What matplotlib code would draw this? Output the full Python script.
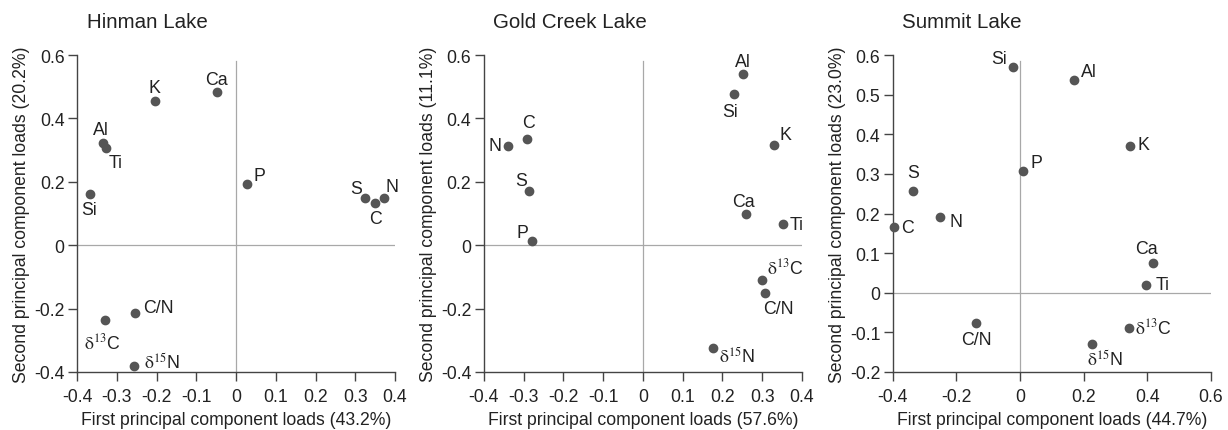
import matplotlib
matplotlib.use("Agg")
import matplotlib.pyplot as plt

plt.rcParams.update({
    "font.family": ["Liberation Sans", "DejaVu Sans"],
    "mathtext.fontset": "stix",
    "font.size": 12.5,
})

D13C = r"$\mathrm{\delta}^{\mathrm{13}}$C"
D15N = r"$\mathrm{\delta}^{\mathrm{15}}$N"

# Hinman Lake
hinman_labels = ["K", "Ca", "Al", "Ti", "Si", "P", "S", "N", "C", "C/N", D13C, D15N]
hinman_pc1 = [-0.204, -0.049, -0.335, -0.327, -0.367, 0.027, 0.325, 0.371, 0.349, -0.253, -0.329, -0.256]
hinman_pc2 = [0.456, 0.482, 0.322, 0.307, 0.163, 0.194, 0.150, 0.148, 0.134, -0.213, -0.235, -0.380]

# Gold Creek Lake
gold_labels = ["Al", "Si", "K", "Ca", "Ti", D13C, "C/N", D15N, "N", "C", "S", "P"]
gold_pc1 = [0.252, 0.229, 0.329, 0.260, 0.353, 0.300, 0.307, 0.177, -0.340, -0.292, -0.287, -0.279]
gold_pc2 = [0.539, 0.476, 0.317, 0.097, 0.066, -0.111, -0.152, -0.325, 0.314, 0.334, 0.170, 0.014]

# Summit Lake
summit_labels = ["Si", "Al", "K", "P", "S", "N", "C", "Ca", "Ti", "C/N", D13C, D15N]
summit_pc1 = [-0.022, 0.170, 0.346, 0.011, -0.336, -0.250, -0.396, 0.417, 0.396, -0.138, 0.342, 0.227]
summit_pc2 = [0.569, 0.537, 0.371, 0.308, 0.256, 0.191, 0.166, 0.074, 0.019, -0.076, -0.089, -0.129]

# label offsets (points) from each marker
hinman_off = [(0, 9.6), (0, 9.6), (-1.2, 9.6), (6.7, -10.8), (-0.5, -11.8), (9.1, 6),
              (-6.2, 6.7), (6, 8.6), (0.2, -11.5), (16.3, 3.6), (-2.4, -16.5), (20, 3.1)]
gold_off = [(0, 9.1), (-2.9, -12.5), (8.4, 7.7), (-1.7, 9.6), (9.8, 0), (16.8, 9.6),
            (9.4, -10.6), (17.3, -5.5), (-8.9, 0), (1.4, 12.2), (-5.3, 7.7), (-7, 6.2)]
summit_off = [(-10, 6.5), (10.8, 6), (10, 1.2), (9.4, 6), (0, 13.2), (11.3, -3.1),
              (9.6, -0.7), (-4.1, 10.6), (12, 0.7), (0, -12), (17.8, 0.7), (9.4, -10.8)]

panels = [
    ("Hinman Lake", hinman_labels, hinman_pc1, hinman_pc2, hinman_off,
     "43.2%", "20.2%", (-0.4, 0.4), (-0.4, 0.6),
     [-0.4, -0.3, -0.2, -0.1, 0, 0.1, 0.2, 0.3, 0.4], [-0.4, -0.2, 0, 0.2, 0.4, 0.6]),
    ("Gold Creek Lake", gold_labels, gold_pc1, gold_pc2, gold_off,
     "57.6%", "11.1%", (-0.4, 0.4), (-0.4, 0.6),
     [-0.4, -0.3, -0.2, -0.1, 0, 0.1, 0.2, 0.3, 0.4], [-0.4, -0.2, 0, 0.2, 0.4, 0.6]),
    ("Summit Lake", summit_labels, summit_pc1, summit_pc2, summit_off,
     "44.7%", "23.0%", (-0.4, 0.6), (-0.2, 0.6),
     [-0.4, -0.2, 0, 0.2, 0.4, 0.6], [-0.2, -0.1, 0, 0.1, 0.2, 0.3, 0.4, 0.5, 0.6]),
]

lefts = [0.0627, 0.394, 0.727]
width = 0.259
fig = plt.figure(figsize=(12.28, 4.31), dpi=100)


def fmt(v):
    if abs(v) < 1e-9:
        return "0"
    return f"{v:.1f}"


for (title, labels, xs, ys, offs, xpct, ypct, xlim, ylim, xt, yt), left in zip(panels, lefts):
    ax = fig.add_axes([left, 0.1346, width, 0.7354])
    ax.set_xlim(*xlim)
    ax.set_ylim(*ylim)
    ax.axhline(0, color="#a8a8a8", lw=0.9, zorder=1)
    ax.axvline(0, color="#a8a8a8", lw=0.9, ymax=0.98, zorder=1)
    ax.scatter(xs, ys, s=36, color="#555555", zorder=3, clip_on=False)
    for lab, x, y, (dx, dy) in zip(labels, xs, ys, offs):
        ax.annotate(lab, (x, y), xytext=(dx, dy), textcoords="offset points",
                    ha="center", va="center", fontsize=12.8, color="#222222")
    for s in ["top", "right"]:
        ax.spines[s].set_visible(False)
    for s in ["left", "bottom"]:
        ax.spines[s].set_color("#444444")
        ax.spines[s].set_linewidth(1.0)
    ax.set_xticks(xt)
    ax.set_xticklabels([fmt(v) for v in xt])
    ax.set_yticks(yt)
    ax.set_yticklabels([fmt(v) for v in yt])
    ax.tick_params(direction="out", length=6.5, width=1.0, color="#444444",
                   labelsize=12.7, labelcolor="#222222")
    ax.tick_params(axis="x", pad=5)
    ax.tick_params(axis="y", pad=2.5)
    ax.set_xlabel(f"First principal component loads ({xpct})", fontsize=12.7,
                  color="#222222", labelpad=4.5)
    ax.set_ylabel(f"Second principal component loads ({ypct})", fontsize=12.7,
                  color="#222222", labelpad=3)
    ax.set_title(title, loc="left", fontsize=14.8, color="#222222", x=0.03, pad=20)

fig.savefig("out.png", dpi=100)
